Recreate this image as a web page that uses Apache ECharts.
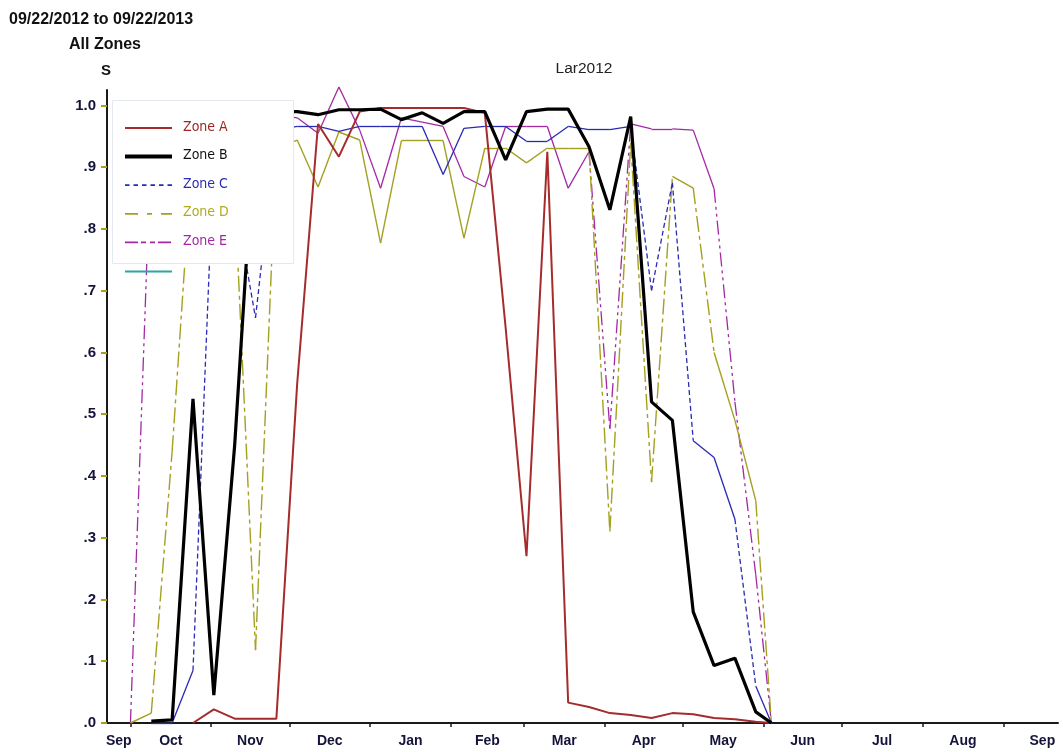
<!DOCTYPE html>
<html>
<head>
<meta charset="utf-8">
<script src="https://cdn.jsdelivr.net/npm/echarts@6/dist/echarts.min.js"></script>
<style>
html,body{margin:0;padding:0;background:#ffffff;}
#chart{width:1063px;height:752px;}
</style>
</head>
<body>
<div id="chart"></div>
<script>
// ---------------- data ----------------
const dates = [
  '2012-10-01','2012-10-09','2012-10-17','2012-10-25','2012-11-02','2012-11-10','2012-11-18','2012-11-26',
  '2012-12-04','2012-12-12','2012-12-20','2012-12-28','2013-01-05','2013-01-13','2013-01-21','2013-01-29',
  '2013-02-06','2013-02-14','2013-02-22','2013-03-02','2013-03-10','2013-03-18','2013-03-26','2013-04-03',
  '2013-04-11','2013-04-19','2013-04-27','2013-05-05','2013-05-13','2013-05-21','2013-05-29','2013-06-04'
];
const zoneA = [null, null, null, 0, 0.022, 0.007, 0.007, 0.007,
  0.55, 0.97, 0.917, 0.99, 0.996, 0.996, 0.996, 0.996,
  0.996, 0.988, 0.64, 0.27, 0.925, 0.033, 0.026, 0.016,
  0.013, 0.008, 0.016, 0.014, 0.008, 0.006, 0.002, 0];
const zoneB = [null, 0.003, 0.005, 0.525, 0.045, 0.45, 0.98, 0.99,
  0.99, 0.985, 0.993, 0.993, 0.994, 0.977, 0.988, 0.971,
  0.99, 0.99, 0.912, 0.99, 0.994, 0.994, 0.933, 0.831,
  0.982, 0.52, 0.49, 0.18, 0.093, 0.105, 0.018, 0];
const zoneC = [null, 0, 0, 0.085, 0.92, 0.85, 0.656, 0.96,
  0.966, 0.966, 0.958, 0.966, 0.966, 0.966, 0.966, 0.888,
  0.963, 0.966, 0.966, 0.942, 0.942, 0.966, 0.961, 0.961,
  0.966, 0.70, 0.875, 0.457, 0.43, 0.33, 0.06, 0];
const zoneD = [0, 0.016, 0.44, 0.94, 0.95, 0.86, 0.118, 0.93,
  0.944, 0.868, 0.957, 0.944, 0.777, 0.943, 0.943, 0.943,
  0.785, 0.931, 0.931, 0.907, 0.931, 0.931, 0.931, 0.31,
  0.94, 0.39, 0.885, 0.866, 0.60, 0.49, 0.36, 0];
const zoneE = [0, 0.95, 0.97, 0.97, 0.97, 0.97, 0.97, 0.985,
  0.98, 0.955, 1.03, 0.96, 0.866, 0.98, 0.973, 0.966,
  0.885, 0.868, 0.966, 0.966, 0.966, 0.866, 0.925, 0.476,
  0.97, 0.962, 0.962, 0.96, 0.865, 0.52, 0.24, 0];

const zoneNames = ['Zone A', 'Zone B', 'Zone C', 'Zone D', 'Zone E'];
const xTickLabels = ['Sep','Oct','Nov','Dec','Jan','Feb','Mar','Apr','May','Jun','Jul','Aug','Sep'];
const monthBounds = ['2012-09-01','2012-10-01','2012-11-01','2012-12-01','2013-01-01','2013-02-01','2013-03-01',
  '2013-04-01','2013-05-01','2013-06-01','2013-07-01','2013-08-01','2013-09-01','2013-10-01'];
const yTickValues = [0, 0.1, 0.2, 0.3, 0.4, 0.5, 0.6, 0.7, 0.8, 0.9, 1.0];
const yTickLabels = ['.0', '.1', '.2', '.3', '.4', '.5', '.6', '.7', '.8', '.9', '1.0'];
const rangeStart = '2012-09-22';
const rangeEnd = '2013-09-22';
const titleText = '09/22/2012 to 09/22/2013';
const subTitleText = 'All Zones';
const yName = 'S';
const chartName = 'Lar2012';

// ---------------- helpers ----------------
function ts(s) { const p = s.split('-').map(Number); return Date.UTC(p[0], p[1] - 1, p[2]); }
const xMin = ts(rangeStart), xMax = ts(rangeEnd);
const tickValues = monthBounds.slice(1, 13).map(ts);
const labelValues = xTickLabels.map(function (_, i) {
  const a = Math.max(ts(monthBounds[i]), xMin), b = ts(monthBounds[i + 1]);
  return (a + b) / 2;
});

const SANS = "'Liberation Sans', Arial, sans-serif";
const LEGFONT = "'DejaVu Sans Condensed', 'DejaVu Sans', sans-serif";

const styles = {
  'Zone A': { color: '#a52c2c', width: 2, dash: null, legDash: null, text: '#a02424' },
  'Zone B': { color: '#000000', width: 3.2, dash: null, legDash: null, text: '#111111' },
  'Zone C': { color: '#2a2ab4', width: 1.3, dash: [5, 3], legDash: [4.5, 4], text: '#2a2ab4' },
  'Zone D': { color: '#a4a020', width: 1.4, dash: [16, 4, 4, 4], legDash: [13, 9, 5, 9], text: '#b0ac20' },
  'Zone E': { color: '#a428a4', width: 1.3, dash: [14, 4, 3, 4, 3, 4], legDash: [13, 3, 5, 4, 5, 3], text: '#a428a4' }
};
const SOLID_MAX_STEP = 0.17; // short segments render solid, as in the reference renderer

function linePoints(values) {
  const out = [];
  values.forEach(function (v, i) { if (v != null) out.push([ts(dates[i]), v]); });
  return out;
}
function segments(values, solid) {
  const out = [];
  for (let i = 1; i < dates.length; i++) {
    const a = values[i - 1], b = values[i];
    if (a == null || b == null) continue;
    const isSolid = Math.abs(b - a) <= SOLID_MAX_STEP;
    if (isSolid === solid) out.push({ coords: [[ts(dates[i - 1]), a], [ts(dates[i]), b]] });
  }
  return out;
}

const zoneValues = { 'Zone A': zoneA, 'Zone B': zoneB, 'Zone C': zoneC, 'Zone D': zoneD, 'Zone E': zoneE };
const series = [];
['Zone E', 'Zone D', 'Zone C'].forEach(function (name, k) {
  const st = styles[name];
  [true, false].forEach(function (solid) {
    series.push({
      type: 'lines', name: name, coordinateSystem: 'cartesian2d', polyline: false, silent: true, clip: false,
      z: 2 + k,
      lineStyle: { color: st.color, width: st.width, opacity: 1, curveness: 0, type: solid ? 'solid' : st.dash },
      data: segments(zoneValues[name], solid)
    });
  });
});
['Zone A', 'Zone B'].forEach(function (name, k) {
  const st = styles[name];
  series.push({
    type: 'line', name: name, data: linePoints(zoneValues[name]), showSymbol: false, symbol: 'none',
    clip: false, silent: true, z: 6 + k,
    lineStyle: { color: st.color, width: st.width }
  });
});

// ---------------- legend (drawn as graphic) ----------------
const graphics = [{
  type: 'rect', z: 100, shape: { x: 112.5, y: 100.5, width: 181, height: 163 },
  style: { fill: '#ffffff', stroke: '#e4e8f0', lineWidth: 1 }
}];
zoneNames.forEach(function (name, i) {
  const st = styles[name];
  const y = 128 + i * 28.6;
  graphics.push({
    type: 'line', z: 101, shape: { x1: 125, y1: y, x2: 172, y2: y },
    style: { stroke: st.color, lineWidth: name === 'Zone B' ? 4 : (name === 'Zone A' ? 2 : 1.8), lineDash: st.legDash || null }
  });
  graphics.push({
    type: 'text', z: 101, x: 183, y: y - 1,
    style: { text: name, fill: st.text, font: '14px ' + LEGFONT, verticalAlign: 'middle', align: 'left' }
  });
});
graphics.push({
  type: 'line', z: 101, shape: { x1: 125, y1: 271.5, x2: 172, y2: 271.5 },
  style: { stroke: '#2aa6a6', lineWidth: 2 }
});

// ---------------- chart ----------------
const chart = echarts.init(document.getElementById('chart'), null, { renderer: 'canvas' });
chart.setOption({
  animation: false,
  backgroundColor: '#ffffff',
  title: [
    { text: titleText, left: 9, top: 12, padding: 0,
      textStyle: { fontFamily: SANS, fontWeight: 'bold', fontSize: 16, color: '#111111' } },
    { text: subTitleText, left: 105, top: 37, padding: 0, textAlign: 'center',
      textStyle: { fontFamily: SANS, fontWeight: 'bold', fontSize: 16, color: '#111111' } },
    { text: yName, left: 106, top: 63, padding: 0, textAlign: 'center',
      textStyle: { fontFamily: SANS, fontWeight: 'bold', fontSize: 15, color: '#111111' } },
    { text: chartName, left: 584, top: 61, padding: 0, textAlign: 'center',
      textStyle: { fontFamily: SANS, fontWeight: 'normal', fontSize: 15.5, color: '#222222' } }
  ],
  grid: { left: 107, right: 5, top: 90, bottom: 29, containLabel: false, outerBoundsMode: 'none' },
  xAxis: {
    type: 'value', min: xMin, max: xMax, scale: true,
    axisLine: { show: true, onZero: false, lineStyle: { color: '#1a1a1a', width: 2 } },
    axisTick: { show: true, customValues: tickValues, length: 4, lineStyle: { color: '#1a1a1a', width: 1.5 } },
    axisLabel: {
      customValues: labelValues, margin: 11, hideOverlap: false, showMinLabel: true, showMaxLabel: true,
      fontFamily: SANS, fontWeight: 'bold', fontSize: 14, color: '#14143a',
      formatter: function (v) {
        for (let i = 0; i < labelValues.length; i++) if (Math.abs(labelValues[i] - v) < 1000) return xTickLabels[i];
        return '';
      }
    },
    splitLine: { show: false }, minorTick: { show: false }
  },
  yAxis: {
    type: 'value', min: 0, max: 1.025,
    axisLine: { show: true, onZero: false, lineStyle: { color: '#1a1a1a', width: 2 } },
    axisTick: { show: true, customValues: yTickValues, length: 6, lineStyle: { color: '#a4a020', width: 2 } },
    axisLabel: {
      customValues: yTickValues, margin: 11,
      fontFamily: SANS, fontWeight: 'bold', fontSize: 15, color: '#14143a',
      formatter: function (v) {
        for (let i = 0; i < yTickValues.length; i++) if (Math.abs(yTickValues[i] - v) < 1e-6) return yTickLabels[i];
        return '';
      }
    },
    splitLine: { show: false }
  },
  series: series,
  graphic: { elements: graphics }
});
</script>
</body>
</html>
